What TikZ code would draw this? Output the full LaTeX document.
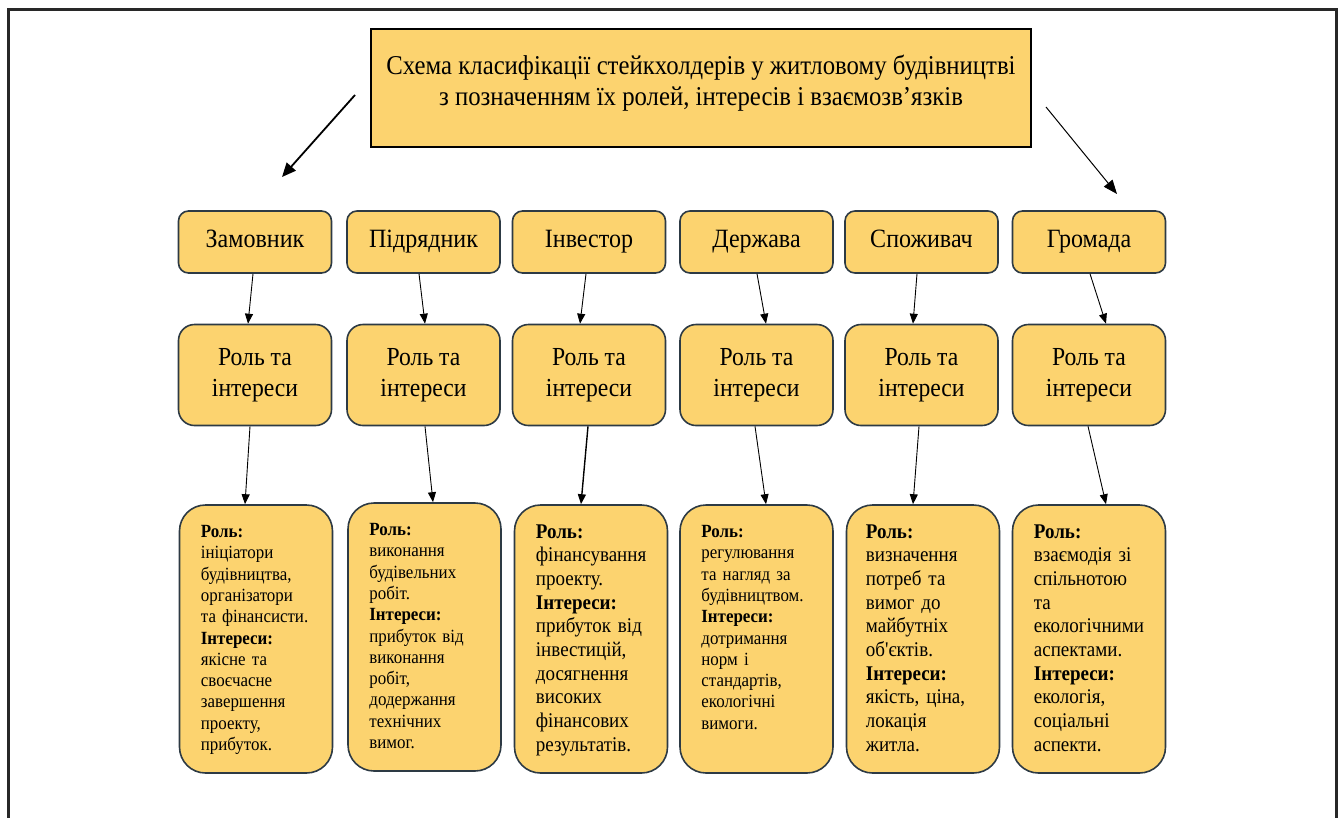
\documentclass[tikz,border=0pt]{standalone}
\usepackage{fontspec}
\setmainfont{Liberation Serif}[FakeStretch=0.91]
\newfontfamily\aposfont{Liberation Serif}[FakeStretch=0.91,Ligatures=ResetAll]
\usetikzlibrary{arrows.meta}
\definecolor{boxfill}{RGB}{252,211,111}
\definecolor{boxline}{RGB}{45,58,68}
\definecolor{framecol}{RGB}{40,40,40}
\begin{document}
\begin{tikzpicture}[x=1pt,y=-1pt,
  titlebox/.style={draw=black,line width=1.8pt,fill=boxfill,minimum width=660pt,minimum height=118pt,inner sep=0pt},
  titletext/.style={inner sep=0pt,align=center,font=\fontsize{27.2}{31}\selectfont},
  namebox/.style={draw=boxline,line width=1.6pt,fill=boxfill,rounded corners=10pt,minimum width=153pt,minimum height=62pt,inner sep=0pt,text height=16pt,text depth=6pt,font=\fontsize{26.4}{31}\selectfont},
  rolebox/.style={draw=boxline,line width=1.6pt,fill=boxfill,rounded corners=16pt,minimum width=153pt,minimum height=101pt,inner sep=0pt,align=center,font=\fontsize{26}{31.5}\selectfont},
  infobox/.style={draw=boxline,line width=1.6pt,fill=boxfill,rounded corners=26pt,minimum width=153pt,minimum height=268pt,inner sep=0pt},
  infotext/.style={anchor=north west,inner sep=0pt,text width=132pt,align=left},
  infosmall/.style={font=\fontsize{18.6}{21.3}\selectfont},
  infolarge/.style={font=\fontsize{20.9}{23.7}\selectfont},
  conn/.style={-{Triangle[length=10pt,width=8pt]},line width=0.9pt,black},
]
\useasboundingbox (0,0) rectangle (1343,817);
% outer frame
\draw[framecol,line width=3pt] (8,830) -- (8,9) -- (1336,9) -- (1336,830);

% title
\node[titlebox] (title) at (701,88) {};
\node[titletext] (titlet) at ([yshift=4.5pt]title.center) {Схема класифікації стейкхолдерів у житловому будівництві\\з позначенням їх ролей, інтересів і взаємозв’язків};
\coordinate (tlA) at (355,95);
\coordinate (tlB) at (282,177);
\coordinate (trA) at (1046,107);
\coordinate (trB) at (1117,194);
\draw[line width=1.8pt,-{Triangle[length=14pt,width=12pt]}] (tlA) -- (tlB);
\draw[line width=1pt,-{Triangle[length=14pt,width=11pt]}] (trA) -- (trB);

% row 1
\node[namebox] (n1) at (255,242) {Замовник};
\node[namebox] (n2) at (423.5,242) {Підрядник};
\node[namebox] (n3) at (589,242) {Інвестор};
\node[namebox] (n4) at (756.5,242) {Держава};
\node[namebox] (n5) at (921.5,242) {Споживач};
\node[namebox] (n6) at (1089,242) {Громада};

% row 2
\node[rolebox] (r1) at (255,375) {Роль та\\інтереси};
\node[rolebox] (r2) at (423.5,375) {Роль та\\інтереси};
\node[rolebox] (r3) at (589,375) {Роль та\\інтереси};
\node[rolebox] (r4) at (756.5,375) {Роль та\\інтереси};
\node[rolebox] (r5) at (921.5,375) {Роль та\\інтереси};
\node[rolebox] (r6) at (1089,375) {Роль та\\інтереси};

% row 3
\node[infobox] (b1) at (256,639) {};
\node[infobox] (b2) at (424.5,637) {};
\node[infobox] (b3) at (591,639) {};
\node[infobox] (b4) at (756.5,639) {};
\node[infobox] (b5) at (923,639) {};
\node[infobox] (b6) at (1089,639) {};

\node[infotext,infosmall] (t1) at ([xshift=22pt,yshift=-21pt]b1.north west)
 {\textbf{Роль:}\\ініціатори\\будівництва,\\організатори\\та фінансисти.\\\textbf{Інтереси:}\\якісне та\\своєчасне\\завершення\\проекту,\\прибуток.};
\node[infotext,infosmall] (t2) at ([xshift=22pt,yshift=-21pt]b2.north west)
 {\textbf{Роль:}\\виконання\\будівельних\\робіт.\\\textbf{Інтереси:}\\прибуток від\\виконання\\робіт,\\додержання\\технічних\\вимог.};
\node[infotext,infolarge] (t3) at ([xshift=22pt,yshift=-20pt]b3.north west)
 {\textbf{Роль:}\\фінансування\\проекту.\\\textbf{Інтереси:}\\прибуток від\\інвестицій,\\досягнення\\високих\\фінансових\\результатів.};
\node[infotext,infosmall] (t4) at ([xshift=22pt,yshift=-21pt]b4.north west)
 {\textbf{Роль:}\\регулювання\\та нагляд за\\будівництвом.\\\textbf{Інтереси:}\\дотримання\\норм і\\стандартів,\\екологічні\\вимоги.};
\node[infotext,infolarge] (t5) at ([xshift=20pt,yshift=-20pt]b5.north west)
 {\textbf{Роль:}\\визначення\\потреб та\\вимог до\\майбутніх\\об{\aposfont'}єктів.\\\textbf{Інтереси:}\\якість, ціна,\\локація\\житла.};
\node[infotext,infolarge] (t6) at ([xshift=22pt,yshift=-20pt]b6.north west)
 {\textbf{Роль:}\\взаємодія зі\\спільнотою\\та\\екологічними\\аспектами.\\\textbf{Інтереси:}\\екологія,\\соціальні\\аспекти.};

% connectors row1 -> row2
\draw[conn] ([xshift=-2pt]n1.south) -- ([xshift=-7pt]r1.north);
\draw[conn] ([xshift=-4.5pt]n2.south) -- ([xshift=1.5pt]r2.north);
\draw[conn] ([xshift=-3pt]n3.south) -- ([xshift=-9pt]r3.north);
\draw[conn] ([xshift=0.5pt]n4.south) -- ([xshift=9.5pt]r4.north);
\draw[conn] ([xshift=-4.5pt]n5.south) -- ([xshift=-8.5pt]r5.north);
\draw[conn] ([xshift=1pt]n6.south) -- ([xshift=17pt]r6.north);

% connectors row2 -> row3
\draw[conn] ([xshift=-5pt]r1.south) -- ([xshift=-11pt]b1.north);
\draw[conn] ([xshift=1.5pt]r2.south) -- ([xshift=8.5pt]b2.north);
\draw[conn,line width=1.4pt] ([xshift=-1pt]r3.south) -- ([xshift=-10pt]b3.north);
\draw[conn] ([xshift=-1.5pt]r4.south) -- ([xshift=9.5pt]b4.north);
\draw[conn] ([xshift=-2.5pt]r5.south) -- ([xshift=-10pt]b5.north);
\draw[conn] ([xshift=-1pt]r6.south) -- ([xshift=17pt]b6.north);
\end{tikzpicture}
\end{document}
